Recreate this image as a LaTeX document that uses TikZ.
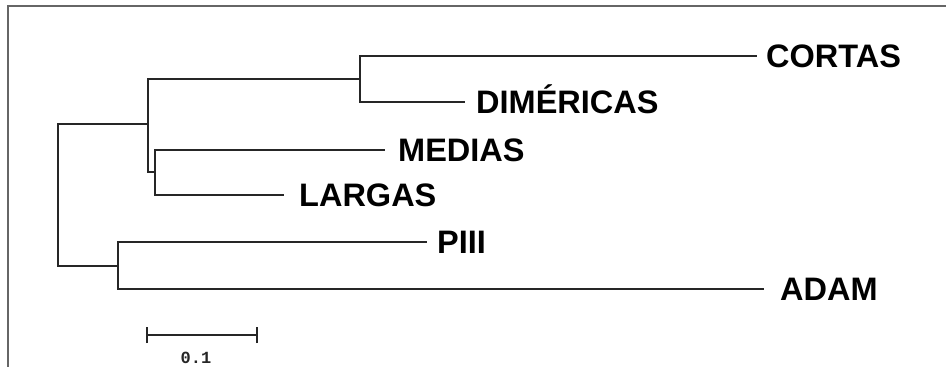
\documentclass[tikz,border=0pt]{standalone}
\usepackage{fontspec}
\newfontfamily\labfont{Liberation Sans}
\newfontfamily\scalefont{Liberation Mono}
\tikzset{
  branch/.style={draw=black!85, line width=1.8pt, line cap=rect},
  frameline/.style={draw=black!60, line width=2pt},
  leaf/.style={anchor=base west, inner sep=0pt, text=black,
    font=\labfont\bfseries\fontsize{32.5}{36}\selectfont},
  scalelab/.style={inner sep=0pt, text=black!85, font=\scalefont\bfseries\fontsize{17}{18}\selectfont}
}
\begin{document}
\begin{tikzpicture}[x=1pt, y=-1pt]
\useasboundingbox (0,0) rectangle (946,367);
\fill[white] (0,0) rectangle (946,367);
% frame (top and left)
\draw[frameline] (946,5.5) -- (8,5.5) -- (8,367);
% internal nodes
\coordinate (root) at (58,195);
\coordinate (n1) at (148,124);
\coordinate (n2) at (360,79);
\coordinate (n3) at (155,172);
\coordinate (n4) at (118,266);
% tips
\coordinate (tC) at (756,56);
\coordinate (tD) at (464,102);
\coordinate (tM) at (384,150);
\coordinate (tL) at (283,195);
\coordinate (tP) at (426,242);
\coordinate (tA) at (763,289);
% tree
\draw[branch] (n1 |- 0,124) -- (root |- 0,124) -- (root |- 0,266) -- (n4 |- 0,266);
\draw[branch] (n1) -- (n2 -| n1) -- (n2);
\draw[branch] (n1) -- (n1 |- n3) -- (n3);
\draw[branch] (n2 |- tC) -- (n2 |- tD);
\draw[branch] (n2 |- tC) -- (tC);
\draw[branch] (n2 |- tD) -- (tD);
\draw[branch] (n3 |- tM) -- (n3 |- tL);
\draw[branch] (n3 |- tM) -- (tM);
\draw[branch] (n3 |- tL) -- (tL);
\draw[branch] (n4 |- tP) -- (n4 |- tA);
\draw[branch] (n4 |- tP) -- (tP);
\draw[branch] (n4 |- tA) -- (tA);
% labels
\node[leaf] (C) at (766,67.6) {CORTAS};
\node[leaf] (D) at (476,113.6) {DIMÉRICAS};
\node[leaf] (M) at (398,161.6) {MEDIAS};
\node[leaf] (L) at (299,206.6) {LARGAS};
\node[leaf] (P) at (437,253.6) {PIII};
\node[leaf] (A) at (780,300.6) {ADAM};
% scale bar
\coordinate (s1) at (147,335);
\coordinate (s2) at (257,335);
\draw[branch, line cap=butt] (s1) -- (s2);
\draw[branch, line cap=butt] ([yshift=-8]s1) -- ([yshift=8]s1);
\draw[branch, line cap=butt] ([yshift=-8]s2) -- ([yshift=8]s2);
\node[scalelab] (sl) at (196,358) {0.1};
\end{tikzpicture}
\end{document}
